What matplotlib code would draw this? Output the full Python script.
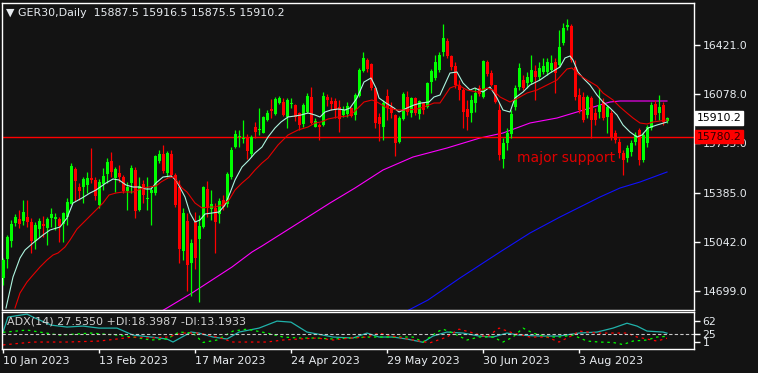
import numpy as np
import matplotlib.pyplot as plt

# Datos (GER30 Daily)
opens = [14790, 14923, 15049, 15175, 15203, 15189, 15217, 15182, 15049, 15133,
         15168, 15140, 15210, 15203, 15203, 15168, 15217, 15308, 15553, 15427,
         15427, 15441, 15490, 15476, 15301, 15448, 15518, 15609, 15490, 15525,
         15497, 15399, 15455, 15546, 15266, 15448, 15343, 15385, 15385, 15609,
         15658, 15525, 15658, 15511, 15427, 14979, 15189, 14895, 15182, 15063,
         15147, 15413, 15273, 15280, 15238, 15336, 15308, 15497, 15707, 15777,
         15763, 15777, 15658, 15847, 15826, 15805, 15896, 15973, 15938, 16015,
         16022, 15917, 16008, 16001, 15945, 15868, 15952, 16057, 15847, 15861,
         15861, 16057, 16029, 16029, 15987, 15931, 15938, 15980, 15931, 16064,
         16239, 16316, 16288, 16120, 15917, 15847, 16064, 15987, 15931, 15742,
         15903, 16057, 15945, 16050, 15938, 16015, 15987, 16162, 16190, 16246,
         16372, 16449, 16344, 16274, 16141, 16106, 15973, 15945, 16015, 16120,
         16057, 16302, 16225, 16141, 15966, 15623, 15735, 15798, 15987, 16127,
         16176, 16155, 16162, 16239, 16197, 16232, 16232, 16246, 16302, 16281,
         16435, 16547, 16554, 16267, 16071, 16057, 15931, 16050, 15945, 15952,
         16022, 15917, 15945, 15805, 15742, 15665, 15630, 15672, 15742, 15826,
         15616, 15735, 15840, 16008, 15945, 16001, 15887.5]
closes = [14916, 15077, 15168, 15217, 15168, 15252, 15182, 15049, 15161, 15189,
          15154, 15203, 15238, 15217, 15154, 15245, 15322, 15574, 15469, 15399,
          15483, 15490, 15476, 15364, 15462, 15504, 15602, 15532, 15553, 15497,
          15399, 15427, 15560, 15259, 15434, 15371, 15350, 15406, 15644, 15658,
          15539, 15665, 15511, 15301, 14993, 15245, 14881, 15035, 14930, 15154,
          15427, 15280, 15308, 15182, 15329, 15287, 15518, 15686, 15798, 15784,
          15770, 15679, 15777, 15812, 15833, 15917, 15945, 15959, 16043, 16050,
          15931, 16036, 16015, 15917, 15861, 16001, 16064, 15875, 15889, 15847,
          16064, 16036, 16008, 15966, 15903, 15966, 15994, 15924, 16071, 16246,
          16330, 16253, 16120, 15875, 15868, 16015, 15980, 15945, 15735, 15910,
          16078, 15952, 16050, 15945, 16029, 15966, 16155, 16239, 16302, 16351,
          16470, 16344, 16267, 16141, 16106, 15952, 15917, 16036, 16085, 16078,
          16309, 16218, 16141, 16022, 15651, 15735, 15805, 15938, 16120, 16260,
          16120, 16197, 16246, 16197, 16260, 16274, 16302, 16295, 16225, 16407,
          16540, 16561, 16316, 16057, 15966, 15896, 16057, 15896, 15896, 16001,
          15910, 15987, 15777, 15756, 15665, 15616, 15700, 15735, 15791, 15616,
          15791, 15847, 16001, 15931, 15987, 15882, 15910.2]
highs = [14930, 15091, 15196, 15238, 15266, 15336, 15336, 15210, 15182, 15210,
         15224, 15217, 15280, 15245, 15217, 15252, 15350, 15595, 15567, 15455,
         15497, 15532, 15700, 15497, 15483, 15560, 15630, 15672, 15567, 15581,
         15511, 15462, 15581, 15567, 15497, 15476, 15497, 15427, 15651, 15686,
         15721, 15679, 15686, 15525, 15476, 15280, 15245, 15063, 15252, 15231,
         15434, 15469, 15406, 15315, 15350, 15371, 15532, 15707, 15826, 15826,
         15896, 15798, 15791, 15882, 15980, 15924, 15966, 16043, 16057, 16064,
         16050, 16050, 16050, 16008, 15952, 16015, 16085, 16127, 15910, 15875,
         16092, 16078, 16057, 16050, 16036, 15994, 16022, 15987, 16085, 16260,
         16372, 16330, 16295, 16120, 15945, 16036, 16113, 16022, 15938, 15924,
         16092, 16099, 16057, 16057, 16036, 16022, 16162, 16253, 16351, 16372,
         16568, 16470, 16351, 16302, 16176, 16120, 16036, 16071, 16120, 16141,
         16316, 16316, 16246, 16141, 16015, 15770, 15840, 15966, 16141, 16295,
         16211, 16232, 16351, 16281, 16302, 16330, 16330, 16351, 16330, 16526,
         16575, 16603, 16568, 16316, 16120, 16092, 16071, 16064, 15980, 16120,
         16050, 16001, 15966, 15826, 15770, 15686, 15721, 15756, 15812, 15840,
         15812, 15861, 16022, 16036, 16071, 16022, 15916.5]
lows = [14741, 14860, 15007, 15154, 15140, 15161, 15147, 14965, 14993, 15077,
        15077, 15021, 15147, 15126, 15042, 15042, 15161, 15308, 15329, 15336,
        15315, 15385, 15455, 15336, 15280, 15406, 15455, 15497, 15392, 15462,
        15385, 15266, 15385, 15210, 15259, 15315, 15266, 15161, 15371, 15595,
        15525, 15497, 15497, 15287, 14895, 14916, 14699, 14664, 14853, 14622,
        15140, 15217, 15196, 14965, 15175, 15266, 15287, 15483, 15700, 15707,
        15735, 15623, 15637, 15770, 15791, 15805, 15889, 15910, 15931, 16008,
        15924, 15840, 15980, 15889, 15826, 15847, 15945, 15868, 15847, 15756,
        15854, 15994, 15966, 15910, 15812, 15917, 15917, 15917, 15896, 16057,
        16232, 16232, 16106, 15840, 15749, 15756, 15896, 15910, 15644, 15735,
        15896, 15931, 15917, 15931, 15903, 15938, 15980, 16085, 16176, 16232,
        16344, 16330, 16246, 16120, 16036, 15840, 15826, 15882, 15952, 16064,
        16050, 16204, 16134, 16015, 15616, 15560, 15686, 15770, 15966, 16106,
        16106, 16120, 16148, 16036, 16176, 16218, 16211, 16232, 16085, 16267,
        16421, 16526, 16302, 16036, 15945, 15882, 15910, 15770, 15861, 15910,
        15896, 15805, 15756, 15735, 15630, 15511, 15602, 15644, 15721, 15581,
        15602, 15707, 15826, 15896, 15896, 15861, 15875.5]

# medias moviles (barra, precio)
ma_fast_x = [0.75, 2.5, 4.25, 5.5, 7.5, 10, 11.75, 14.25, 16, 17.5, 19.75, 21.75, 23.25, 25.75,
             27.5, 29, 30.75, 32.5, 34, 35.75, 37, 38.25, 40, 42, 43.25, 45.5, 46.75, 48, 49.25,
             50.5, 52.25, 54, 55.5, 56.75, 58, 59.75, 61.5, 63, 64.75, 66.25, 68, 69.5, 71.25, 73,
             74.5, 76.25, 78, 79.25, 80.5, 82, 83.75, 85.5, 86.75, 88.5, 90.25, 92, 93.25, 94,
             95.75, 97.75, 99, 101, 102.75, 104.5, 106.5, 107.75, 109.25, 111.75, 113.5, 115,
             116.75, 118, 120, 121.75, 123.5, 125, 126.75, 128, 130, 131.75, 134.25, 136.75,
             139.25, 140.5, 141.75, 142.5, 143.75, 145, 146.75, 148.5, 150, 151.75, 153.5, 155,
             156.75, 158.5, 159.75, 161.25, 163.5, 166]
ma_fast_y = [14580, 14797, 14930, 14986, 15035, 15091, 15126, 15147, 15210, 15315, 15350, 15385,
             15406, 15455, 15483, 15476, 15441, 15427, 15427, 15413, 15413, 15455, 15497, 15504,
             15476, 15357, 15245, 15182, 15196, 15238, 15245, 15252, 15301, 15385, 15476, 15567,
             15616, 15665, 15707, 15777, 15840, 15882, 15917, 15924, 15931, 15945, 15931, 15917,
             15952, 15966, 15973, 15966, 15980, 16050, 16162, 16190, 16120, 16050, 16015, 15980,
             15952, 15980, 16001, 16015, 16022, 16057, 16071, 16225, 16232, 16155, 16106, 16120,
             16092, 16127, 16050, 15966, 15952, 16050, 16092, 16141, 16176, 16225, 16267, 16330,
             16344, 16316, 16232, 16190, 16141, 16071, 16022, 15980, 15931, 15861, 15812, 15777,
             15791, 15840, 15861, 15882]
ma_mid_x = [3, 4.25, 6, 7.5, 9.25, 11, 12.5, 13.75, 15.5, 16.75, 18.5, 20, 21.5, 23.25, 25, 26.5,
            28.25, 30, 32.5, 35, 36.5, 38.25, 39.5, 41.25, 42.75, 44.75, 46, 48, 49.75, 51.5, 53,
            54.75, 56.5, 58, 59.75, 61.5, 63, 64.75, 66.25, 68.75, 71.25, 73.75, 76.25, 78, 79.5,
            81.25, 83.75, 86.25, 87.75, 90.25, 92.25, 93.5, 96, 98.5, 101, 103.5, 105.25, 107.75,
            109.25, 111.75, 113.75, 116, 118.5, 121, 122.5, 124.25, 126.75, 128.75, 131, 133.5,
            136, 138.5, 141, 142.25, 143.75, 146, 148.5, 150, 152.5, 154.25, 156, 157.5, 159.25,
            161, 162.5, 164.25, 166]
ma_mid_y = [14580, 14685, 14762, 14811, 14867, 14916, 14951, 14965, 15007, 15056, 15133, 15175,
            15217, 15266, 15315, 15371, 15385, 15392, 15392, 15420, 15427, 15434, 15462, 15490,
            15497, 15420, 15392, 15315, 15280, 15287, 15287, 15301, 15336, 15406, 15455, 15497,
            15546, 15595, 15630, 15721, 15791, 15826, 15847, 15875, 15882, 15903, 15917, 15924,
            15952, 16022, 16036, 16022, 15980, 15966, 15966, 15973, 15987, 16015, 16015, 16120,
            16141, 16106, 16092, 16120, 16106, 16057, 16022, 16050, 16085, 16106, 16141, 16176,
            16253, 16260, 16218, 16176, 16134, 16085, 16036, 15987, 15945, 15910, 15875, 15868,
            15882, 15889, 15896]
ma_100_x = [39.25, 41, 47.25, 52.25, 57.25, 62.25, 64.75, 74.25, 81.75, 88, 95, 102.5, 111,
            119.25, 125, 131.75, 138.5, 143.5, 149.25, 151.75, 154.25, 160, 166]
ma_100_y = [14552, 14580, 14685, 14776, 14867, 14972, 15014, 15182, 15315, 15420, 15546, 15637,
            15700, 15770, 15805, 15875, 15910, 15952, 16001, 16022, 16029, 16029, 16029]
ma_200_x = [100.5, 106.25, 114.25, 124.25, 131.75, 139.25, 144.25, 149.25, 154.25, 159.25, 166]
ma_200_y = [14552, 14636, 14790, 14972, 15105, 15217, 15287, 15357, 15420, 15462, 15532]

support = 15780.2

# ADX(14)
adx_x = [0, 1.25, 6, 7.5, 12, 16, 20, 24, 28.5, 32.5, 37, 41, 42.5, 47, 49, 52.5, 56, 59, 64,
         68.5, 72, 76, 80, 82.5, 87.5, 91, 94, 97.5, 101, 105, 107.5, 111, 115, 119, 122.5,
         126, 129, 134, 139, 144, 148.5, 152.5, 156, 158.5, 161, 165, 166]
adx_y = [30.7, 73.5, 82, 73.5, 50.6, 45, 47.8, 42, 42, 22, 16.5, 10.8, 2.2, 30.7, 27.8, 16.5,
         10.8, 30.7, 42, 62, 59, 30.7, 22, 16.5, 13.6, 27.8, 16.5, 16.5, 10.8, 1.5, 19.3, 30.7,
         27.8, 19.3, 16.5, 27.8, 22, 19.3, 19.3, 27.8, 30.7, 42, 56, 47.8, 33.5, 30.7, 27.5]
pdi_x = [0, 6, 14, 22, 28.5, 32.5, 37, 41, 44, 47.5, 50, 53.5, 57.5, 61, 66, 70, 74, 78.5,
         82.5, 86.75, 91, 97, 102.5, 105, 108.5, 110, 112.5, 116, 119, 122.5, 125, 127.5, 130,
         132.5, 136, 139, 142.5, 146, 149, 152.5, 155, 157.5, 161, 163.5, 166]
pdi_y = [30, 36.4, 22, 27.8, 22, 16.5, 8, 10.8, 30.7, 27.8, 1, 8, 33.5, 39, 27.8, 16.5, 13.6,
         13.6, 10.8, 13.6, 16.5, 16.5, 16.5, 2.2, 30.7, 39, 27.8, 8, 16.5, 16.5, 2.2, 16.5, 42,
         27.8, 16.5, 16.5, 22, 5, 2.2, 1, -5, 5, 8, 16.5, 18.4]
mdi_x = [0, 7.5, 16, 24, 28.5, 32.5, 37, 41, 45, 49, 53.5, 57.5, 61.75, 66, 70, 74, 78.5, 82.5,
         86.75, 91, 94, 98.5, 102.5, 106.75, 111, 114, 116.75, 121, 124, 127.5, 131.75, 136,
         139, 142.5, 144, 148.5, 152.5, 156, 158.5, 161, 163.5, 166]
mdi_y = [-6, 2.2, 2.2, 5, 10.8, 16.5, 13.6, 16.5, 27.8, 27.8, 16.5, 2.2, 2.2, 2.2, 8, 10.8,
         13.6, 8, 13.6, 16.5, 27.8, 16.5, 8, 0, 16.5, 39, 30.7, 16.5, 42, 27.8, 16.5, 16.5, 2.2,
         22, 33.5, 27.8, 27.8, 27.8, 16.5, 10.8, 5, 13.2]

price_ticks = [16421.0, 16078.0, 15735.0, 15385.0, 15042.0, 14699.0]
date_pos = [0, 24, 48, 72, 96, 120, 144]
date_labels = ["10 Jan 2023", "13 Feb 2023", "17 Mar 2023", "24 Apr 2023",
               "29 May 2023", "30 Jun 2023", "3 Aug 2023"]

bg = '#131313'
fg = '#e8ecf0'
W, H = 758, 373

fig = plt.figure(figsize=(W / 100, H / 100), dpi=100, facecolor=bg)
ax = fig.add_axes([2 / W, (H - 310) / H, 692 / W, 307 / H], facecolor=bg)
ax2 = fig.add_axes([2 / W, (H - 349) / H, 692 / W, 37 / H], facecolor=bg)

for a in (ax, ax2):
    for s in a.spines.values():
        s.set_color('white')
        s.set_linewidth(1)
    a.set_xlim(-0.25, 172.75)

# velas
x = np.arange(len(opens))
o = np.array(opens)
c = np.array(closes)
up = c >= o
cols = np.where(up, '#00ff00', '#ff0000')
ax.vlines(x, lows, highs, colors=cols, linewidth=0.9, zorder=3)
body_lo = np.minimum(o, c)
body_h = np.maximum(np.abs(c - o), 5)
ax.bar(x, body_h, bottom=body_lo, width=0.75, color=cols, linewidth=0, zorder=4)

# medias
ax.plot(ma_fast_x, ma_fast_y, color='#aef5e0', linewidth=0.8, zorder=5)
ax.plot(ma_mid_x, ma_mid_y, color='#e60000', linewidth=0.8, zorder=5)
ax.plot(ma_100_x, ma_100_y, color='#ff00ff', linewidth=0.8, zorder=2)
ax.plot(ma_200_x, ma_200_y, color='#1010ff', linewidth=0.8, zorder=2)
ax.axhline(support, color='#ff0000', linewidth=1, zorder=2)

ax.set_ylim(14566, 16715)
ax.set_xticks([])
ax.yaxis.tick_right()
ax.set_yticks(price_ticks)
ax.set_yticklabels([f"{p:.1f}" for p in price_ticks])
ax.tick_params(axis='y', colors='white', labelcolor=fg, labelsize=7.8,
               length=4, width=1, pad=2)

ax.text(0.006, 0.968, "\u25bc GER30,Daily  15887.5 15916.5 15875.5 15910.2",
        transform=ax.transAxes, color=fg, fontsize=7.9, va='center', ha='left')
ax.text(128.5, 15630, "major support", color='#e00000', fontsize=10,
        va='center', ha='left', zorder=6)

# etiquetas de precio
ax.text(1.004, 15910.2, "15910.2", transform=ax.get_yaxis_transform(),
        color='black', fontsize=7.8, va='center', ha='left', zorder=10, clip_on=False,
        bbox=dict(boxstyle='square,pad=0.18', facecolor='white', edgecolor='white'))
ax.text(1.004, support, "15780.2", transform=ax.get_yaxis_transform(),
        color='#300000', fontsize=7.8, va='center', ha='left', zorder=10, clip_on=False,
        bbox=dict(boxstyle='square,pad=0.18', facecolor='#ff0000', edgecolor='#ff0000'))

# panel ADX
ax2.plot(adx_x, adx_y, color='#20b2aa', linewidth=0.9)
ax2.plot(pdi_x, pdi_y, color='#00ff00', linewidth=0.9, dashes=(2, 3))
ax2.plot(mdi_x, mdi_y, color='#ff0000', linewidth=0.9, dashes=(2, 3))
ax2.axhline(25, color='#c8c8c8', linewidth=0.8, dashes=(3, 2))
ax2.set_ylim(-17.7, 88)
ax2.yaxis.tick_right()
ax2.set_yticks([62, 25, 1])
ax2.set_yticklabels(["62", "25", "1"])
ax2.tick_params(axis='y', colors='white', labelcolor=fg, labelsize=7.8,
                length=4, width=1, pad=2)
ax2.text(0.007, 0.73, "ADX(14) 27.5350 +DI:18.3987 -DI:13.1933", transform=ax2.transAxes,
         color='#d0d0d0', fontsize=8, va='center', ha='left')

ax2.set_xticks(date_pos)
ax2.set_xticklabels(date_labels, ha='left')
ax2.tick_params(axis='x', colors='white', labelcolor=fg, labelsize=8,
                length=3, width=1, pad=2)

fig.savefig('out.png', dpi=100, facecolor=bg)
